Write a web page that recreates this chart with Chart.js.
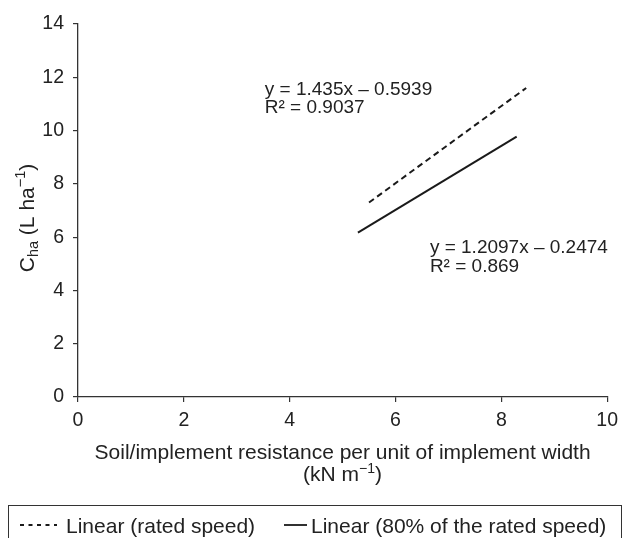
<!DOCTYPE html>
<html><head><meta charset="utf-8">
<script src="https://cdn.jsdelivr.net/npm/chart.js@4/dist/chart.umd.min.js"></script>
<style>html,body{margin:0;padding:0;background:#fff;overflow:hidden}#wrap{width:625px;height:538px;position:relative}</style>
</head><body><div id="wrap"><canvas id="c" width="625" height="538"></canvas></div>
<script>
// ---- data ----
const ratedX = [5.5, 8.47];
const ratedY = [7.3, 11.6];
const reducedX = [5.29, 8.29];
const reducedY = [6.17, 9.77];
const seriesLabels = ['Linear (rated speed)', 'Linear (80% of the rated speed)'];
const xTicks = [0, 2, 4, 6, 8, 10];
const yTicks = [0, 2, 4, 6, 8, 10, 12, 14];
const eqRated = ['y = 1.435x \u2013 0.5939', 'R\u00B2 = 0.9037'];
const eqReduced = ['y = 1.2097x \u2013 0.2474', 'R\u00B2 = 0.869'];
const eqRatedAnchor = [3.53, 11.35];
const eqReducedAnchor = [6.65, 5.39];

const FONT = '"Liberation Sans", Arial, Helvetica, sans-serif';
const INK = '#222';

function drawRuns(ctx, runs, x, y, align) {
  let total = 0;
  runs.forEach(r => { ctx.font = r.size + 'px ' + FONT; r.w = ctx.measureText(r.t).width; total += r.w; });
  let cx = align === 'center' ? x - total / 2 : x;
  runs.forEach(r => {
    ctx.font = r.size + 'px ' + FONT;
    ctx.fillText(r.t, cx, y + (r.dy || 0));
    cx += r.w;
  });
}

const decor = {
  id: 'decor',
  afterDraw(chart) {
    const ctx = chart.ctx;
    const xs = chart.scales.x, ys = chart.scales.y;
    const area = chart.chartArea;
    ctx.save();
    ctx.fillStyle = INK;
    ctx.textBaseline = 'alphabetic';
    ctx.textAlign = 'left';

    // equations
    ctx.font = '19px ' + FONT;
    [[eqRated, eqRatedAnchor], [eqReduced, eqReducedAnchor]].forEach(([lines, a]) => {
      const px = xs.getPixelForValue(a[0]);
      const py = ys.getPixelForValue(a[1]);
      lines.forEach((l, i) => ctx.fillText(l, px, py + i * 18.5));
    });

    // x title
    const cx = (area.left + area.right) / 2;
    ctx.font = '21px ' + FONT;
    ctx.textAlign = 'center';
    ctx.fillText('Soil/implement resistance per unit of implement width', cx, 459);
    ctx.textAlign = 'left';
    drawRuns(ctx, [
      {t: '(kN m', size: 21},
      {t: '\u22121', size: 14, dy: -8},
      {t: ')', size: 21}
    ], cx, 481, 'center');

    // y title
    ctx.save();
    ctx.translate(33.5, 218);
    ctx.rotate(-Math.PI / 2);
    drawRuns(ctx, [
      {t: 'C', size: 21},
      {t: 'ha', size: 14.5, dy: 4.5},
      {t: ' (L ha', size: 21},
      {t: '\u22121', size: 14.5, dy: -9},
      {t: ')', size: 21}
    ], 0, 0, 'center');
    ctx.restore();

    // legend box
    ctx.strokeStyle = '#333';
    ctx.lineWidth = 1;
    ctx.strokeRect(8.5, 505.5, 613, 60);
    const ds = chart.data.datasets;
    const legendY = 525;
    const items = [{x0: 20, x1: 57, tx: 66}, {x0: 284, x1: 307, tx: 311}];
    ctx.font = '21px ' + FONT;
    ds.forEach((d, i) => {
      const it = items[i];
      ctx.beginPath();
      ctx.setLineDash(d.borderDash && d.borderDash.length ? [4, 4.5] : []);
      ctx.lineWidth = 1.8;
      ctx.strokeStyle = d.borderColor;
      ctx.moveTo(it.x0, legendY);
      ctx.lineTo(it.x1, legendY);
      ctx.stroke();
      ctx.setLineDash([]);
      ctx.fillText(d.label, it.tx, 533);
    });
    ctx.restore();
  }
};

const axisCommon = {
  type: 'linear',
  grid: {drawOnChartArea: false, drawTicks: true, tickLength: 5, color: '#333', lineWidth: 1.2},
  border: {display: true, color: '#333', width: 1.3},
  title: {display: false}
};

new Chart(document.getElementById('c').getContext('2d'), {
  type: 'scatter',
  data: {
    datasets: [
      {label: seriesLabels[0], data: ratedX.map((x, i) => ({x: x, y: ratedY[i]})), showLine: true,
       borderColor: '#1a1a1a', borderWidth: 2, borderDash: [6, 4], pointRadius: 0, fill: false},
      {label: seriesLabels[1], data: reducedX.map((x, i) => ({x: x, y: reducedY[i]})), showLine: true,
       borderColor: '#1a1a1a', borderWidth: 2, pointRadius: 0, fill: false}
    ]
  },
  options: {
    responsive: false, animation: false, devicePixelRatio: 1,
    layout: {padding: {top: 24, right: 12, left: 0, bottom: 0}},
    plugins: {legend: {display: false}, tooltip: {enabled: false}},
    scales: {
      x: Object.assign({}, axisCommon, {
        min: 0, max: 10,
        afterBuildTicks: s => { s.ticks = xTicks.map(v => ({value: v})); },
        afterFit: s => { s.height = 141; },
        ticks: {color: INK, font: {family: FONT, size: 19.5}, padding: 7, maxRotation: 0, autoSkip: false}
      }),
      y: Object.assign({}, axisCommon, {
        min: 0, max: 14,
        afterBuildTicks: s => { s.ticks = yTicks.map(v => ({value: v})); },
        afterFit: s => { s.width = 78; },
        ticks: {color: INK, font: {family: FONT, size: 19.5}, padding: 9, autoSkip: false}
      })
    }
  },
  plugins: [decor]
});
</script>
</body></html>
